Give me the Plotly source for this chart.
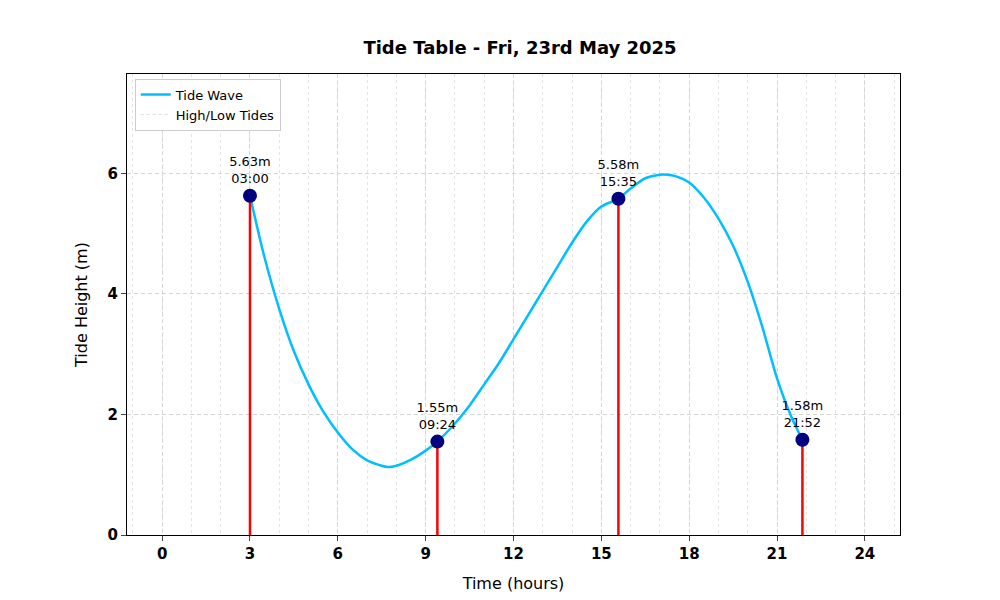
import plotly.graph_objects as go

curve_x = [3.0, 3.5, 4, 4.5, 5, 5.5, 6, 6.5, 7, 7.5, 7.7, 8, 8.5, 9, 9.4, 10, 10.5, 11, 11.5, 12,
           12.5, 13, 13.5, 14, 14.5, 15, 15.58, 16, 16.5, 17, 17.25, 17.5, 18, 18.5, 19, 19.5,
           20, 20.5, 21, 21.5, 21.87]
curve_y = [5.63, 4.6, 3.75, 3.05, 2.5, 2.05, 1.7, 1.42, 1.24, 1.15, 1.13, 1.15, 1.25, 1.40, 1.55,
           1.85, 2.15, 2.5, 2.85, 3.25, 3.65, 4.05, 4.45, 4.85, 5.2, 5.45, 5.58, 5.75, 5.92, 5.98,
           5.98, 5.96, 5.85, 5.6, 5.25, 4.8, 4.2, 3.45, 2.6, 1.95, 1.58]

tide_hours = [3.0, 9.4, 15.583, 21.867]
tide_heights = [5.63, 1.55, 5.58, 1.58]
tide_times = ["03:00", "09:24", "15:35", "21:52"]

fig = go.Figure()
fig.add_trace(go.Scatter(x=curve_x, y=curve_y, mode="lines", name="Tide Wave",
                         line=dict(color="#00bfff", width=2.5, shape="spline", smoothing=0.8)))
fig.add_trace(go.Scatter(x=[None], y=[None], mode="lines", name="High/Low Tides",
                         line=dict(color="#dddddd", width=1, dash="dot")))

for h, t in zip(tide_hours, tide_heights):
    fig.add_trace(go.Scatter(x=[h, h], y=[0, t], mode="lines", showlegend=False,
                             line=dict(color="red", width=2.5)))

fig.add_trace(go.Scatter(x=tide_hours, y=tide_heights, mode="markers+text", showlegend=False,
                         marker=dict(color="navy", size=14),
                         text=[f"{v:.2f}m<br>{s}" for v, s in zip(tide_heights, tide_times)],
                         textposition="top center",
                         textfont=dict(size=13, color="black")))

fig.update_layout(
    width=1000, height=600, plot_bgcolor="white", paper_bgcolor="white",
    font=dict(family="DejaVu Sans", color="black"),
    title=dict(text="<b>Tide Table - Fri, 23rd May 2025</b>", x=0.512, y=0.945,
               xanchor="center", font=dict(size=18)),
    margin=dict(l=119, r=108, t=66, b=73),
    legend=dict(x=0.01, y=0.99, xanchor="left", yanchor="top", bordercolor="#cccccc",
                borderwidth=1, bgcolor="white", font=dict(size=13)),
)
fig.update_xaxes(range=[-1.2, 25.2], tickvals=list(range(0, 25, 3)), title_text="Time (hours)",
                 title_font=dict(size=16), tickfont=dict(size=15, weight="bold"),
                 showline=True, linecolor="black", mirror=True, ticks="outside",
                 showgrid=True, gridcolor="#d6d6d6", griddash="4px,3px", zeroline=False,
                 minor=dict(dtick=1, showgrid=True, gridcolor="#e4e4e4", griddash="dot"))
fig.update_yaxes(range=[0, 7.65], tickvals=[0, 2, 4, 6], title_text="Tide Height (m)",
                 title_font=dict(size=16), tickfont=dict(size=15, weight="bold"),
                 showline=True, linecolor="black", mirror=True, ticks="outside",
                 showgrid=True, gridcolor="#d6d6d6", griddash="4px,3px", zeroline=False)

fig.write_html("out.html")
